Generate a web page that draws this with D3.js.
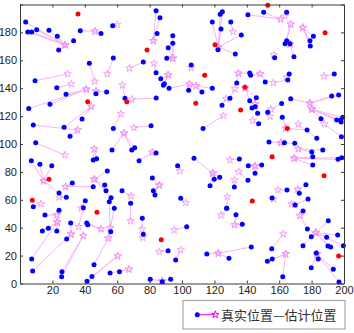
<!DOCTYPE html>
<html><head><meta charset="utf-8">
<script src="https://cdn.jsdelivr.net/npm/d3@7"></script>
<style>body{margin:0;background:#fff}</style></head>
<body>
<svg id="c" width="354" height="333"></svg>
<script>
// True positions (blue) and estimated positions (star) of unknown nodes
const trueX=[3.5,4.8,7.2,10.3,17.9,23.0,23.9,33.1,37.2,50.0,42.8,57.6,9.3,22.7,28.4,46.9,53.5,5.4,18.5,8.2,27.2,38.3,30.9,9.7,45.2,47.3,7.0,12.3,19.6,24.1,32.3,45.2,28.6,53.9,52.3,53.1,56.2,55.1,58.2,40.3,39.1,8.2,24.1,15.4,17.5,13.8,22.7,31.3,28.8,7.2,7.8,25.9,25.7,41.2,41.8,56.0,45.7,44.4,41.4,55.6,61.4,
57.2,84.0,86.4,84.6,94.3,94.3,91.5,90.6,76.1,84.0,105.7,86.9,89.1,88.5,92.0,104.1,112.3,118.7,64.8,84.1,124.7,124.9,123.6,118.7,124.1,136.6,122.2,132.9,130.1,140.7,150.4,164.6,164.6,163.6,166.7,169.1,181.1,179.0,179.2,157.2,133.8,141.8,142.4,151.4,165.3,166.2,194.0,129.6,141.8,145.9,143.2,145.2,146.7,161.5,167.1,192.4,196.7,185.8,195.5,198.0,199.2,198.2,147.3,152.9,161.9,177.2,183.2,198.4,153.7,163.2,169.6,186.9,180.1,180.7,196.3,198.6,180.7,135.4,140.9,149.2,145.1,140.7,132.3,164.8,176.5,172.4,177.8,169.9,155.6,133.3,137.2,174.7,177.4,190.3,179.8,189.3,196.1,174.7,190.1,191.8,199.6,155.4,155.7,152.7,162.2,182.9,184.1,179.8,193.4,196.9,142.8,115.3,129.0,113.0,57.6,80.9,56.8,69.0,70.8,84.0,73.5,97.3,107.4,119.9,117.3,123.3,81.7,82.3,83.3,63.0,99.2,127.6,127.6,68.3,75.5,76.1,102.9,91.4,96.1,80.4,87.8,93.0];
const trueY=[187.4,180.3,180.3,181.9,181.5,177.2,167.4,174.0,181.2,179.3,157.8,161.6,145.4,140.3,135.6,136.0,137.3,125.4,128.5,113.6,112.0,117.9,105.5,100.9,88.5,89.5,88.0,85.4,84.4,64.9,72.0,69.4,61.8,80.6,70.6,66.5,61.5,58.6,53.9,59.4,54.3,55.1,52.5,49.1,39.6,37.6,37.6,43.4,31.9,17.6,9.0,8.5,4.9,43.4,42.1,37.1,13.5,5.0,1.6,7.5,8.5,
184.8,195.5,190.5,179.3,177.6,172.2,169.0,161.4,158.8,151.1,156.6,146.8,143.2,142.1,139.9,138.5,137.3,139.9,132.8,133.0,127.7,194.8,193.0,187.4,182.4,178.1,167.6,164.5,187.4,192.7,194.4,194.4,174.0,171.9,171.9,162.6,177.2,174.0,170.2,161.9,143.7,150.9,149.2,144.4,145.9,150.2,150.2,132.8,131.0,133.2,125.8,126.7,122.0,129.0,132.5,134.4,135.1,118.1,117.2,117.2,119.1,115.8,114.5,122.7,119.1,110.0,104.1,105.2,101.4,100.9,100.5,95.7,94.3,90.9,89.0,90.2,84.9,89.2,84.4,84.9,79.0,74.0,69.2,67.0,70.8,64.7,60.6,56.3,61.3,49.3,42.4,52.0,39.1,45.0,33.5,33.1,34.8,27.1,26.9,26.2,27.1,24.9,17.6,15.9,4.9,21.9,17.6,11.3,10.2,1.0,26.2,21.1,18.1,111.2,111.2,113.1,95.7,95.7,97.3,93.5,88.0,84.4,89.7,74.7,70.1,76.1,75.6,66.5,63.4,66.5,61.1,53.9,53.9,57.5,46.7,35.3,40.7,23.5,16.8,3.0,1.3,3.0];
const estX=[27.8,27.8,27.8,27.8,27.8,27.8,27.8,27.8,46.3,46.3,46.1,53.9,29.4,31.7,40.9,46.9,46.9,40.9,40.9,35.6,44.0,44.0,35.6,27.8,45.9,45.9,14.6,14.6,14.6,14.6,28.2,28.2,24.3,45.9,45.9,45.9,45.9,55.6,54.5,37.8,36.2,13.0,22.7,22.7,23.0,23.0,23.0,31.5,31.5,23.0,31.5,39.1,39.1,50.0,50.0,55.6,54.5,60.3,60.3,67.3,67.3,
60.1,82.3,82.3,82.3,94.3,94.3,94.3,94.3,67.5,82.7,105.7,91.5,91.5,91.5,104.5,104.5,108.6,108.6,63.2,69.1,127.2,122.4,122.4,122.4,122.4,122.4,122.4,122.4,131.5,160.9,160.9,163.6,167.1,167.1,166.7,166.7,174.5,174.5,174.5,156.6,134.8,134.8,148.2,148.2,156.4,164.6,187.7,132.7,138.9,138.9,145.1,145.1,145.1,154.9,179.0,179.0,179.0,180.1,180.1,180.1,180.1,180.1,143.6,154.3,164.0,164.0,171.8,187.8,160.9,160.9,160.9,171.8,171.8,169.3,169.3,169.3,169.3,129.6,145.1,145.1,145.1,135.0,132.5,159.3,171.4,171.4,169.3,167.7,156.4,132.5,132.5,172.7,172.7,182.5,182.5,182.5,182.5,182.5,182.5,182.5,182.5,162.5,164.0,164.0,164.0,183.3,183.3,183.3,183.3,183.3,122.4,122.4,122.4,125.5,62.3,70.4,64.2,64.2,64.2,81.7,81.7,98.6,119.0,119.0,119.0,119.0,86.0,86.0,86.0,68.5,102.3,124.1,128.0,68.3,75.3,75.7,95.2,86.0,99.2,87.7,87.7,87.7];
const estY=[171.0,171.0,171.0,171.0,171.0,171.0,171.0,171.0,180.8,180.8,144.9,150.2,150.2,143.0,139.2,137.8,137.8,139.2,139.2,110.0,126.9,126.9,110.0,92.1,96.4,96.4,73.5,73.5,73.5,73.5,69.4,69.4,61.8,74.7,74.7,74.7,74.7,40.0,32.4,53.9,40.7,57.0,49.1,49.1,43.9,43.9,43.9,35.3,35.3,43.9,35.3,34.3,34.3,39.1,39.1,40.0,32.4,19.7,19.7,10.2,10.2,
185.5,174.0,174.0,174.0,161.4,161.4,161.4,161.4,154.3,157.8,154.5,149.5,149.5,149.5,143.0,143.0,141.6,141.6,142.1,132.0,132.5,169.7,169.7,169.7,169.7,169.7,169.7,169.7,180.5,189.4,189.4,191.7,185.8,185.8,171.7,171.7,183.4,183.4,183.4,163.8,150.7,150.7,150.2,150.2,143.9,147.8,148.5,139.6,140.1,140.1,128.7,128.7,128.7,124.9,129.2,129.2,129.2,124.9,124.9,124.9,124.9,124.9,116.7,119.8,111.2,111.2,114.1,114.3,100.9,100.9,100.9,96.4,96.4,89.7,89.7,89.7,89.7,88.5,84.2,84.2,84.2,80.1,74.2,67.0,67.5,67.5,56.3,57.0,60.4,42.1,42.1,48.6,48.6,36.4,36.4,36.4,36.4,36.4,36.4,36.4,36.4,35.5,21.1,21.1,21.1,21.1,21.1,21.1,21.1,21.1,21.6,21.6,21.6,120.3,121.5,111.7,107.7,107.7,107.7,94.0,94.0,80.6,79.0,79.0,79.0,79.0,70.4,70.4,70.4,62.7,57.9,48.9,62.2,44.8,38.9,32.8,38.3,22.8,24.0,1.8,1.8,1.8];
// Anchor nodes (red)
const anchorX=[35.8,78.4,120.4,152.9,188.3,114.0,138.9,41.8,65.9,108.5,136.2,165.0,155.6,187.7,17.9,7.6,47.5,143.4,87.2,196.7];
const anchorY=[193.2,167.4,171.2,199.4,179.8,149.2,140.6,130.3,130.3,129.2,124.4,111.2,90.9,77.3,74.7,59.6,51.0,59.1,31.4,19.7];
const xTicks=[20,40,60,80,100,120,140,160,180,200];
const yTicks=[0,20,40,60,80,100,120,140,160,180];
const xAll=[0,20,40,60,80,100,120,140,160,180,200];
const yAll=[0,20,40,60,80,100,120,140,160,180,200];
const legendLabel="真实位置—估计位置";

const svg=d3.select('#c');
const x=d3.scaleLinear().domain([0,200]).range([20,344]);
const y=d3.scaleLinear().domain([0,200]).range([283.5,4.5]);
const font="'Liberation Sans',Arial,sans-serif";
const axisColor="#3a3a3a";

svg.append('rect').attr('x',20).attr('y',4.5).attr('width',324).attr('height',279).attr('fill','#fff');

const n=Math.min(trueX.length,trueY.length,estX.length,estY.length);
const pairs=d3.range(n).map(i=>({tx:trueX[i],ty:trueY[i],ex:estX[i],ey:estY[i]}));
const g=svg.append('g');
g.selectAll('line.l').data(pairs).join('line').attr('class','l')
 .attr('x1',d=>x(d.tx)).attr('y1',d=>y(d.ty)).attr('x2',d=>x(d.ex)).attr('y2',d=>y(d.ey))
 .attr('stroke','#f8b4f8').attr('stroke-width',1);
const star=d3.symbol(d3.symbolStar).size(17);
g.selectAll('path.s').data(pairs).join('path').attr('class','s')
 .attr('d',star).attr('transform',d=>`translate(${x(d.ex)},${y(d.ey)})`)
 .attr('fill','none').attr('stroke','#f29af2').attr('stroke-width',0.9);
g.selectAll('circle.b').data(pairs).join('circle').attr('class','b')
 .attr('cx',d=>x(d.tx)).attr('cy',d=>y(d.ty)).attr('r',2.5).attr('fill','#0000ff');
g.selectAll('circle.r').data(anchorX.map((d,i)=>[d,anchorY[i]])).join('circle').attr('class','r')
 .attr('cx',d=>x(d[0])).attr('cy',d=>y(d[1])).attr('r',2.5).attr('fill','#ff0000');

// axes (MATLAB style inward ticks, box)
function styleAxis(sel){sel.select('.domain').attr('stroke',axisColor);sel.selectAll('.tick line').attr('stroke',axisColor);
 sel.selectAll('text').attr('fill','#222').style('font-family',font).style('font-size','11px');}
const axB=svg.append('g').attr('transform','translate(0,283.5)')
 .call(d3.axisBottom(x).tickValues(xAll).tickSize(-3).tickPadding(3).tickSizeOuter(0).tickFormat(d=>xTicks.includes(d)?d:''));
styleAxis(axB);
const axL=svg.append('g').attr('transform','translate(20,0)')
 .call(d3.axisLeft(y).tickValues(yAll).tickSize(-3).tickPadding(3).tickSizeOuter(0).tickFormat(d=>yTicks.includes(d)?d:''));
styleAxis(axL);
const axT=svg.append('g').attr('transform','translate(0,4.5)')
 .call(d3.axisTop(x).tickValues(xAll).tickSize(-3).tickSizeOuter(0).tickFormat(''));
styleAxis(axT);
const axR=svg.append('g').attr('transform','translate(344,0)')
 .call(d3.axisRight(y).tickValues(yAll).tickSize(-3).tickSizeOuter(0).tickFormat(''));
styleAxis(axR);

// legend
const lg=svg.append('g');
lg.append('rect').attr('x',183).attr('y',300.5).attr('width',162).attr('height',28.5)
 .attr('fill','#fff').attr('stroke','#a8a8a8').attr('stroke-width',1.2);
lg.append('line').attr('x1',197.3).attr('x2',215.3).attr('y1',314.7).attr('y2',314.7).attr('stroke','#ff00ff').attr('stroke-width',1);
lg.append('circle').attr('cx',197.3).attr('cy',314.7).attr('r',2.5).attr('fill','#0000ff');
lg.append('path').attr('d',star).attr('transform','translate(215.3,314.7)').attr('fill','none').attr('stroke','#ff00ff').attr('stroke-width',1);
lg.append('text').attr('x',221).attr('y',319.5).text(legendLabel)
 .style('font-family',"'Noto Sans CJK SC',sans-serif").style('font-size','13px').attr('fill','#333');
</script>
</body></html>
